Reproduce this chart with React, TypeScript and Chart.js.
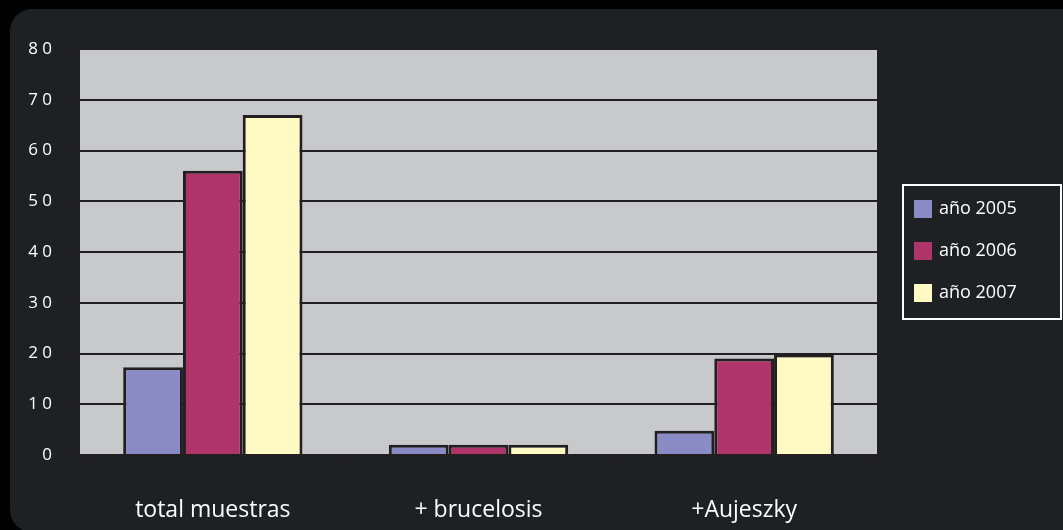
import React, { useEffect, useRef } from "react";
import { Chart, registerables } from "chart.js";

Chart.register(...registerables);

const categories = ["total muestras", "+ brucelosis", "+Aujeszky"];
const seriesLabels = ["año 2005", "año 2006", "año 2007"];
const values2005 = [17.3, 2, 4.8];
const values2006 = [56, 2, 19];
const values2007 = [67, 2, 19.8];
const seriesColors = ["#8a8bc5", "#ae3469", "#fffac4"];
const yTickLabels: Record<number, string> = { 0: "0", 10: "1 0", 20: "2 0", 30: "3 0", 40: "4 0", 50: "5 0", 60: "6 0", 70: "7 0", 80: "8 0" };

const FONT = "'Open Sans', 'DejaVu Sans', sans-serif";
const DARK = "#1f2024";
const LINE = "#231f20";

const backgroundPlugin = {
  id: "bgPanel",
  beforeDraw(chart: any) {
    const { ctx, width, height, chartArea } = chart;
    ctx.save();
    ctx.fillStyle = "#000000";
    ctx.fillRect(0, 0, width, height);
    ctx.fillStyle = DARK;
    const x = 10, y = 9, r = 22;
    const w = width + 40, h = height - y + 2;
    ctx.beginPath();
    ctx.moveTo(x + r, y);
    ctx.lineTo(x + w, y);
    ctx.lineTo(x + w, y + h);
    ctx.lineTo(x + r, y + h);
    ctx.arcTo(x, y + h, x, y + h - r, r);
    ctx.lineTo(x, y + r);
    ctx.arcTo(x, y, x + r, y, r);
    ctx.closePath();
    ctx.fill();
    ctx.fillStyle = "#c8c9cb";
    ctx.fillRect(chartArea.left, chartArea.top, chartArea.right - chartArea.left, chartArea.bottom - chartArea.top);
    ctx.restore();
  },
};

const legendPlugin = {
  id: "customLegend",
  afterDraw(chart: any) {
    const { ctx } = chart;
    ctx.save();
    ctx.strokeStyle = "#ffffff";
    ctx.lineWidth = 2;
    ctx.strokeRect(903, 185, 158, 134);
    ctx.font = `18px ${FONT}`;
    ctx.textBaseline = "middle";
    ctx.textAlign = "left";
    chart.data.datasets.forEach((ds: any, i: number) => {
      const cy = 209 + i * 42;
      ctx.fillStyle = ds.backgroundColor;
      ctx.fillRect(914, cy - 9, 18, 18);
      ctx.fillStyle = "#ffffff";
      ctx.fillText(ds.label, 939, cy);
    });
    ctx.restore();
  },
};

export default function App() {
  const canvasRef = useRef<HTMLCanvasElement>(null);
  useEffect(() => {
    document.body.style.margin = "0";
    const canvas = canvasRef.current!;
    const data = [values2005, values2006, values2007];
    const chart = new Chart(canvas, {
      type: "bar",
      data: {
        labels: categories,
        datasets: seriesLabels.map((label, i) => ({
          label,
          data: data[i],
          backgroundColor: seriesColors[i],
          borderColor: LINE,
          borderWidth: 3,
          categoryPercentage: 0.675,
          barPercentage: 1.0,
        })),
      },
      options: {
        animation: false,
        responsive: false,
        devicePixelRatio: 1,
        layout: { padding: { left: 0, right: 186, top: 49, bottom: 0 } },
        plugins: { legend: { display: false }, tooltip: { enabled: false } },
        scales: {
          x: {
            grid: { offset: true, drawOnChartArea: false, color: LINE, lineWidth: 2, tickLength: 9 },
            border: { display: false },
            ticks: { color: "#ffffff", font: { family: FONT, size: 23 }, padding: 33 },
            afterFit(scale: any) { scale.height = 75; },
          },
          y: {
            min: 0,
            max: 80,
            ticks: {
              stepSize: 10,
              color: "#ffffff",
              font: { family: FONT, size: 17 },
              padding: 18,
              callback: (v: any) => yTickLabels[v as number] ?? "",
            },
            grid: { color: LINE, lineWidth: 2, tickLength: 10 },
            border: { display: false },
            afterFit(scale: any) { scale.width = 80; },
          },
        },
      },
      plugins: [backgroundPlugin, legendPlugin],
    });
    return () => chart.destroy();
  }, []);
  return <canvas ref={canvasRef} width={1063} height={530} style={{ display: "block" }} />;
}
